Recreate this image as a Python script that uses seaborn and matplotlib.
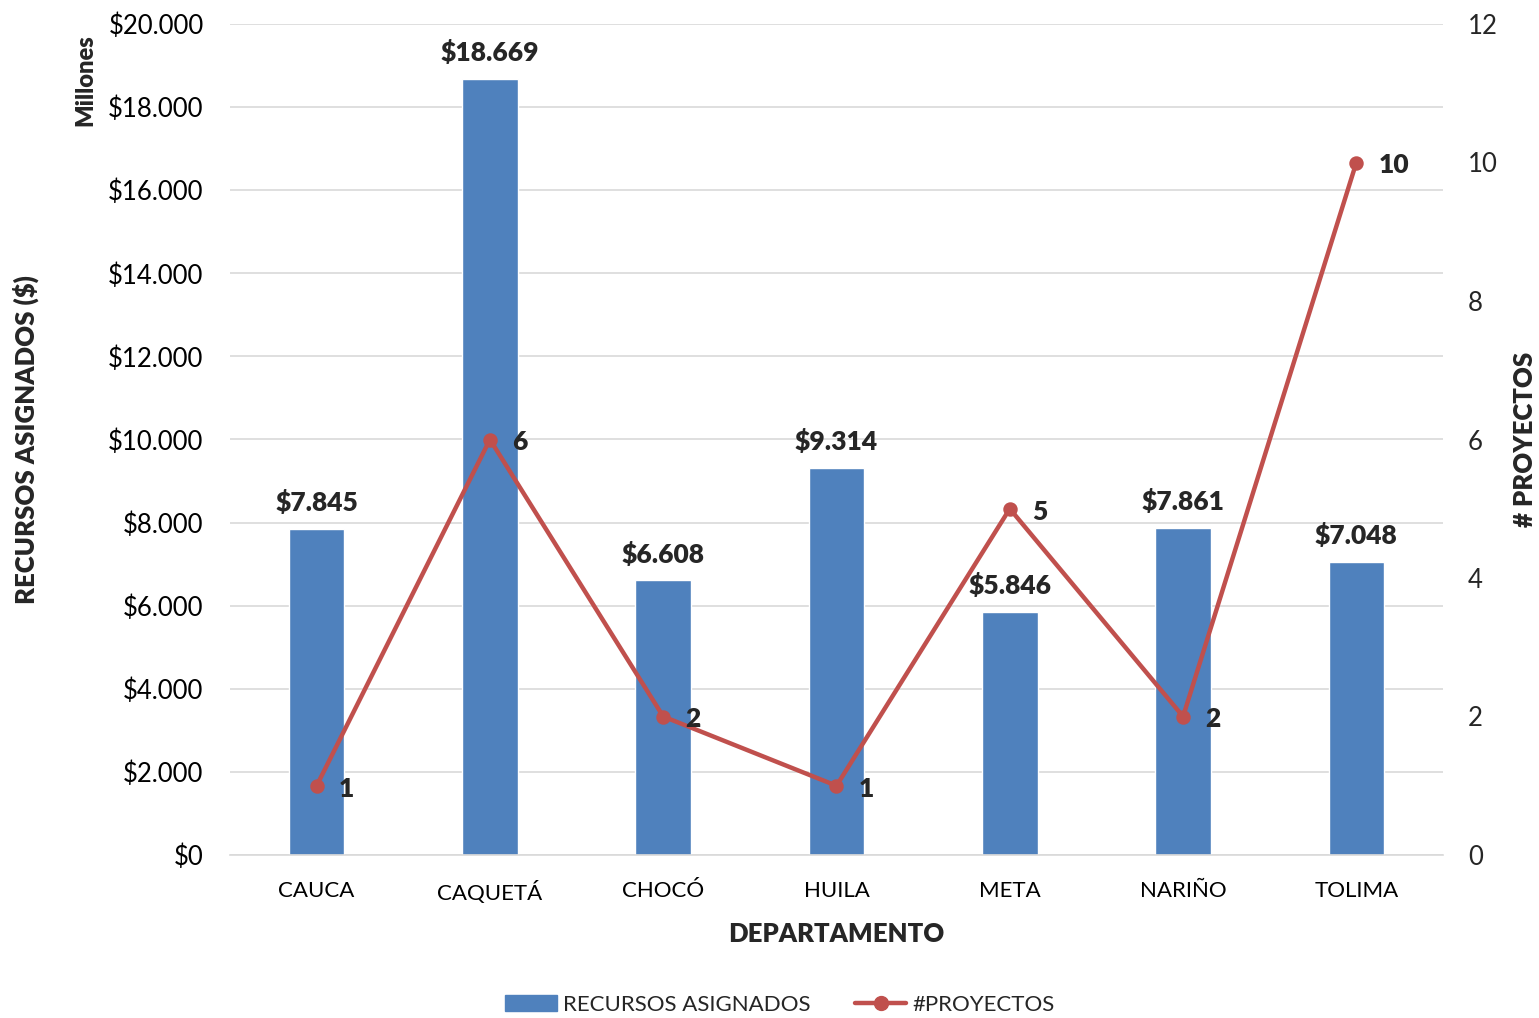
import matplotlib
matplotlib.use('Agg')
import matplotlib.pyplot as plt
import matplotlib.ticker as mticker
from matplotlib.patches import Patch
from matplotlib.lines import Line2D
import seaborn as sns
import pandas as pd

sns.set_style('white')
plt.rcParams['font.family'] = ['Lato', 'DejaVu Sans']

# data
departamentos = ['CAUCA', 'CAQUETÁ', 'CHOCÓ', 'HUILA', 'META', 'NARIÑO', 'TOLIMA']
recursos = [7845, 18669, 6608, 9314, 5846, 7861, 7048]   # millones
proyectos = [1, 6, 2, 1, 5, 2, 10]

BAR = '#4F81BD'
LINE = '#C0504D'
BOLD = 'heavy'

df = pd.DataFrame({'dep': departamentos, 'rec': recursos, 'proy': proyectos})


def fmt_money(v, pos=None):
    return '$' + f'{int(round(v)):,}'.replace(',', '.')


fig = plt.figure(figsize=(15.39, 10.18), dpi=100)
ax = fig.add_axes([230 / 1539, 1 - 855 / 1018, (1443 - 230) / 1539, (855 - 24) / 1018])

sns.barplot(data=df, x='dep', y='rec', color=BAR, width=0.32, ax=ax,
            saturation=1, zorder=2)
ax.set_ylim(0, 20000)
ax.set_xlim(-0.5, len(departamentos) - 0.5)
ax.yaxis.set_major_locator(mticker.MultipleLocator(2000))
ax.yaxis.set_major_formatter(mticker.FuncFormatter(fmt_money))
ax.grid(True, axis='y', color='#D9D9D9', linewidth=1.2, zorder=0)
ax.set_axisbelow(True)
for s in ['top', 'right', 'left']:
    ax.spines[s].set_visible(False)
ax.spines['bottom'].set_color('#D9D9D9')
ax.spines['bottom'].set_linewidth(1.2)
ax.tick_params(axis='y', length=0, labelsize=18.5, pad=19, colors='black')
ax.tick_params(axis='x', length=0, labelsize=16, pad=19, colors='black')
ax.set_xlabel('DEPARTAMENTO', fontsize=18.5, fontweight=BOLD, labelpad=12.5)
ax.set_ylabel('RECURSOS ASIGNADOS ($)', fontsize=18.5, fontweight=BOLD)
ax.yaxis.set_label_coords(-0.1575, 0.5)

# bar value labels
for i, v in enumerate(recursos):
    ax.annotate(fmt_money(v), (i, v), xytext=(0, 10), textcoords='offset points',
                ha='center', va='bottom', fontsize=19, fontweight=BOLD)

fig.text(85 / 1539, 1 - 80 / 1018, 'Millones', rotation=90, ha='center', va='center',
         fontsize=17, fontweight=BOLD)

# secondary axis: number of projects
ax2 = ax.twinx()
sns.pointplot(data=df, x='dep', y='proy', color=LINE, markers='o', linestyles='-',
              ax=ax2, markersize=8, linewidth=3.2)
ax2.set_ylim(0, 12)
ax2.set_xlim(-0.5, len(departamentos) - 0.5)
ax2.yaxis.set_major_locator(mticker.MultipleLocator(2))
for s in ['top', 'right', 'left', 'bottom']:
    ax2.spines[s].set_visible(False)
ax2.tick_params(axis='y', length=0, labelsize=18.5, pad=18)
ax2.set_ylabel('# PROYECTOS', fontsize=18.5, fontweight=BOLD)
ax2.yaxis.set_label_coords(1.058, 0.5)
ax2.set_xlabel('')

for i, p in enumerate(proyectos):
    ax2.annotate(str(p), (i, p), xytext=(16, -2), textcoords='offset points',
                 ha='left', va='center', fontsize=19, fontweight=BOLD)

handles = [Patch(color=BAR, label='RECURSOS ASIGNADOS'),
           Line2D([0], [0], color=LINE, linewidth=3.2, marker='o', markersize=10,
                  label='#PROYECTOS')]
fig.legend(handles=handles, loc='center', bbox_to_anchor=(0.507, 1 - 1005 / 1018),
           ncol=2, frameon=False, fontsize=16, handlelength=2.3, columnspacing=2.0,
           handletextpad=0.3)

fig.savefig('out.png', dpi=100)
